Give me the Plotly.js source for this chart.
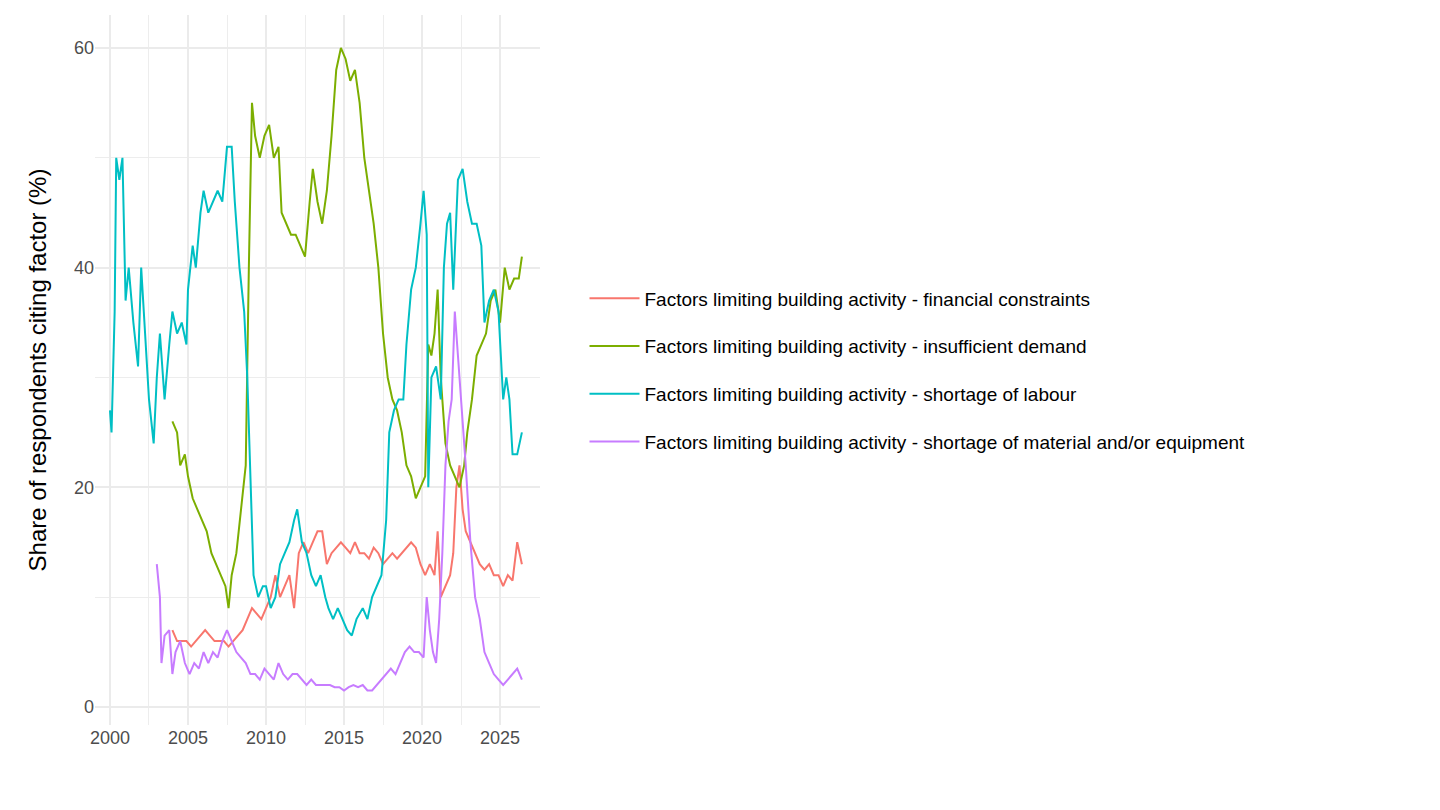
<!DOCTYPE html>
<html>
<head>
<meta charset="utf-8">
<script src="https://cdn.plot.ly/plotly-3.0.1.min.js"></script>
<style>html,body{margin:0;padding:0;background:#fff}#chart{width:1440px;height:810px}</style>
</head>
<body>
<div id="chart"></div>
<script>
// values (decimal year, percent)
const labourX = [2000.0,2000.1,2000.3,2000.4,2000.6,2000.8,2001.0,2001.2,2001.5,2001.8,2002.0,2002.3,2002.5,2002.8,2003.0,2003.2,2003.5,2003.8,2004.0,2004.3,2004.6,2004.9,2005.0,2005.3,2005.5,2005.8,2006.0,2006.3,2006.6,2006.9,2007.2,2007.5,2007.8,2008.0,2008.3,2008.6,2008.8,2009.0,2009.2,2009.5,2009.8,2010.0,2010.3,2010.6,2010.9,2011.2,2011.5,2011.8,2012.0,2012.3,2012.6,2012.9,2013.2,2013.5,2013.8,2014.0,2014.3,2014.6,2014.9,2015.2,2015.5,2015.8,2016.2,2016.5,2016.8,2017.1,2017.4,2017.7,2017.9,2018.2,2018.5,2018.8,2019.0,2019.3,2019.6,2019.9,2020.1,2020.3,2020.4,2020.6,2020.9,2021.2,2021.4,2021.6,2021.8,2022.0,2022.3,2022.6,2022.9,2023.2,2023.5,2023.8,2024.0,2024.3,2024.6,2024.9,2025.2,2025.4,2025.6,2025.8,2026.1,2026.4];
const labourY = [27,25,36,50,48,50,37,40,35,31,40,33,28,24,30,34,28,33,36,34,35,33,38,42,40,45,47,45,46,47,46,51,51,46,40,36,30,20,12,10,11,11,9,10,13,14,15,17,18,15,14,12,11,12,10,9,8,9,8,7,6.5,8,9,8,10,11,12,17,25,27,28,28,33,38,40,44,47,43,20,30,31,28,40,44,45,38,48,49,46,44,44,42,35,37,38,36,28,30,28,23,23,25];

const demandX = [2004.0,2004.3,2004.5,2004.8,2005.0,2005.3,2005.6,2005.9,2006.2,2006.5,2006.8,2007.1,2007.4,2007.6,2007.8,2008.1,2008.4,2008.7,2008.9,2009.1,2009.3,2009.6,2009.9,2010.2,2010.5,2010.8,2011.0,2011.3,2011.6,2011.9,2012.2,2012.5,2012.8,2013.0,2013.3,2013.6,2013.9,2014.2,2014.5,2014.8,2015.1,2015.4,2015.7,2016.0,2016.3,2016.6,2016.9,2017.2,2017.5,2017.8,2018.1,2018.4,2018.7,2019.0,2019.3,2019.6,2019.9,2020.2,2020.4,2020.6,2020.8,2021.0,2021.2,2021.5,2021.8,2022.1,2022.4,2022.7,2022.9,2023.2,2023.5,2023.8,2024.1,2024.4,2024.7,2025.0,2025.3,2025.6,2025.9,2026.2,2026.4];
const demandY = [26,25,22,23,21,19,18,17,16,14,13,12,11,9,12,14,18,22,40,55,52,50,52,53,50,51,45,44,43,43,42,41,46,49,46,44,47,52,58,60,59,57,58,55,50,47,44,40,34,30,28,27,25,22,21,19,20,21,33,32,34,38,30,24,22,21,20,22,25,28,32,33,34,37,38,35,40,38,39,39,41];

const financeX = [2004.0,2004.3,2004.6,2004.9,2005.2,2005.5,2005.8,2006.1,2006.4,2006.7,2007.0,2007.3,2007.6,2007.9,2008.2,2008.5,2008.8,2009.1,2009.4,2009.7,2010.0,2010.3,2010.6,2010.9,2011.2,2011.5,2011.8,2012.1,2012.4,2012.7,2013.0,2013.3,2013.6,2013.9,2014.2,2014.5,2014.8,2015.1,2015.4,2015.7,2016.0,2016.3,2016.6,2016.9,2017.2,2017.5,2017.8,2018.1,2018.4,2018.7,2019.0,2019.3,2019.6,2019.9,2020.2,2020.5,2020.8,2021.0,2021.2,2021.5,2021.8,2022.0,2022.2,2022.4,2022.6,2022.8,2023.1,2023.4,2023.7,2024.0,2024.3,2024.6,2024.9,2025.2,2025.5,2025.8,2026.1,2026.4];
const financeY = [7,6,6,6,5.5,6,6.5,7,6.5,6,6,6,5.5,6,6.5,7,8,9,8.5,8,9,10,12,10,11,12,9,14,15,14,15,16,16,13,14,14.5,15,14.5,14,15,14,14,13.5,14.5,14,13,13.5,14,13.5,14,14.5,15,14.5,13,12,13,12,16,10,11,12,14,20,22,18,16,15,14,13,12.5,13,12,12,11,12,11.5,15,13];

const materialX = [2003.0,2003.2,2003.3,2003.5,2003.8,2004.0,2004.2,2004.5,2004.8,2005.1,2005.4,2005.7,2006.0,2006.3,2006.6,2006.9,2007.2,2007.5,2007.8,2008.1,2008.4,2008.7,2009.0,2009.3,2009.6,2009.9,2010.2,2010.5,2010.8,2011.1,2011.4,2011.7,2012.0,2012.3,2012.6,2012.9,2013.2,2013.5,2013.8,2014.1,2014.4,2014.7,2015.0,2015.3,2015.6,2015.9,2016.2,2016.5,2016.8,2017.1,2017.4,2017.7,2018.0,2018.3,2018.6,2018.9,2019.2,2019.5,2019.8,2020.1,2020.3,2020.5,2020.7,2020.9,2021.1,2021.3,2021.5,2021.7,2021.9,2022.1,2022.3,2022.5,2022.8,2023.1,2023.4,2023.7,2024.0,2024.3,2024.6,2024.9,2025.2,2025.5,2025.8,2026.1,2026.4];
const materialY = [13,10,4,6.5,7,3,5,6,4,3,4,3.5,5,4,5,4.5,6,7,6,5,4.5,4,3,3,2.5,3.5,3,2.5,4,3,2.5,3,3,2.5,2,2.5,2,2,2,2,1.8,1.8,1.5,1.8,2,1.8,2,1.5,1.5,2,2.5,3,3.5,3,4,5,5.5,5,5,4.5,10,7,5,4,8,14,22,26,28,36,32,28,22,15,10,8,5,4,3,2.5,2,2.5,3,3.5,2.5];

const seriesNames = [
  'Factors limiting building activity - financial constraints',
  'Factors limiting building activity - insufficient demand',
  'Factors limiting building activity - shortage of labour',
  'Factors limiting building activity - shortage of material and/or equipment'
];
const seriesColors = ['#F8766D', '#7CAE00', '#00BFC4', '#C77CFF'];
const xTickVals = [2000, 2005, 2010, 2015, 2020, 2025];
const yTickVals = [0, 20, 40, 60];

const xs = [financeX, demandX, labourX, materialX];
const ys = [financeY, demandY, labourY, materialY];

const traces = seriesNames.map((name, i) => ({
  x: xs[i], y: ys[i], name: name, legendgroup: 'g' + i, type: 'scatter', mode: 'lines',
  line: { color: seriesColors[i], width: 2 }
}));

const layout = {
  width: 1440, height: 810,
  margin: { l: 95, r: 900, t: 15, b: 85 },
  paper_bgcolor: '#fff', plot_bgcolor: '#fff',
  font: { family: 'Liberation Sans, Arial, sans-serif', color: '#4d4d4d' },
  showlegend: true,
  legend: { x: 1.1, y: 0.5, yanchor: 'middle', font: { size: 19, color: '#000' },
            tracegroupgap: 20, itemwidth: 50 },
  xaxis: {
    range: [1999.04, 2027.56], tickvals: xTickVals, showline: false, zeroline: false,
    gridcolor: '#ebebeb', gridwidth: 1.8, tickfont: { size: 18 },
    minor: { dtick: 2.5, tick0: 2002.5, showgrid: true, gridcolor: '#ebebeb', gridwidth: 0.9 }
  },
  yaxis: {
    range: [-1.64, 63.0], tickvals: yTickVals, showline: false, zeroline: false,
    gridcolor: '#ebebeb', gridwidth: 1.8, tickfont: { size: 18 },
    minor: { dtick: 10, tick0: 10, showgrid: true, gridcolor: '#ebebeb', gridwidth: 0.9 },
    title: { text: 'Share of respondents citing factor (%)', font: { size: 24, color: '#000' }, standoff: 20 }
  }
};

Plotly.newPlot('chart', traces, layout, { displayModeBar: false, staticPlot: true });
</script>
</body>
</html>
